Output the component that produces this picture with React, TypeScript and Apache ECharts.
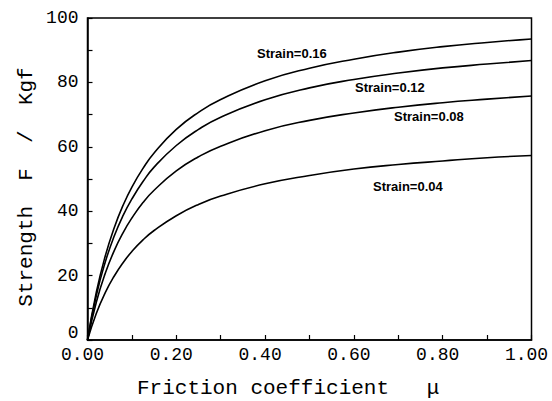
import React, { useEffect, useRef } from "react";
import * as echarts from "echarts";

const mu = [0, 0.02, 0.04, 0.06, 0.08, 0.1, 0.125, 0.15, 0.2, 0.25, 0.3, 0.4, 0.5, 0.6, 0.7, 0.8, 0.9, 1.0];
const strain016 = [0, 14.9, 26.1, 34.8, 41.8, 47.5, 53.3, 58.1, 65.4, 70.7, 74.7, 80.5, 84.4, 87.2, 89.4, 91.1, 92.4, 93.5];
const strain012 = [0, 13.9, 24.2, 32.2, 38.6, 43.8, 49.2, 53.7, 60.4, 65.4, 69.2, 74.6, 78.3, 80.9, 82.9, 84.5, 85.7, 86.8];
const strain008 = [0, 11.8, 20.7, 27.7, 33.3, 37.9, 42.7, 46.5, 52.5, 56.9, 60.2, 65.0, 68.2, 70.5, 72.3, 73.7, 74.8, 75.8];
const strain004 = [0, 8.3, 14.7, 19.8, 24.0, 27.5, 31.1, 34.0, 38.6, 42.1, 44.7, 48.5, 51.1, 53.1, 54.5, 55.6, 56.6, 57.3];
const seriesNames = ["Strain=0.16", "Strain=0.12", "Strain=0.08", "Strain=0.04"];
const seriesValues = [strain016, strain012, strain008, strain004];
const xTitle = "Friction coefficient   \u03bc";
const yTitle = "Strength  F  /  Kgf";

const MONO = "'Liberation Mono', monospace";

export default function App() {
  const ref = useRef<HTMLDivElement>(null);
  useEffect(() => {
    if (!ref.current) return;
    const chart = echarts.init(ref.current, null, { renderer: "svg" });
    const labelPos = [
      [257, 54],
      [355, 88],
      [394, 117],
      [373, 187],
    ];
    chart.setOption({
      animation: false,
      backgroundColor: "#fff",
      grid: {
        left: 87.5,
        right: 20.5,
        top: 18,
        bottom: 61,
        show: true,
        borderColor: "#000",
        borderWidth: 1.5,
      },
      xAxis: {
        type: "value",
        min: 0,
        max: 1,
        interval: 0.2,
        axisLine: { show: true, lineStyle: { color: "#000", width: 1.5 } },
        axisTick: { show: true, inside: true, length: 5, lineStyle: { color: "#000", width: 1.2 } },
        minorTick: { show: true, splitNumber: 2, length: 5, lineStyle: { color: "#000", width: 1.2 } },
        splitLine: { show: false },
        axisLabel: {
          color: "#000",
          fontFamily: MONO,
          fontSize: 18,
          margin: 6,
          padding: [0, 10, 0, 0],
          formatter: (v: number) => v.toFixed(2),
        },
      },
      yAxis: {
        type: "value",
        min: 0,
        max: 100,
        interval: 20,
        axisLine: { show: true, lineStyle: { color: "#000", width: 1.5 } },
        axisTick: { show: true, inside: true, length: 5, lineStyle: { color: "#000", width: 1.2 } },
        minorTick: { show: true, splitNumber: 2, length: 5, lineStyle: { color: "#000", width: 1.2 } },
        splitLine: { show: false },
        axisLabel: {
          color: "#000",
          fontFamily: MONO,
          fontSize: 18,
          margin: 9,
          formatter: (v: number) => (v === 0 ? "{z|0}" : String(v)),
          rich: {
            z: { fontFamily: MONO, fontSize: 18, color: "#000", padding: [0, 0, 14, 0] },
          },
        },
      },
      series: seriesValues.map((vals, i) => ({
        name: seriesNames[i],
        type: "line",
        smooth: true,
        showSymbol: false,
        symbol: "none",
        lineStyle: { color: "#000", width: 1.6 },
        data: mu.map((m, j) => [m, vals[j]]),
      })),
      graphic: [
        ...seriesNames.map((n, i) => ({
          type: "text",
          left: labelPos[i][0],
          top: labelPos[i][1] - 7,
          style: {
            text: n,
            fill: "#000",
            font: "bold 13px 'Liberation Sans', Arial, sans-serif",
          },
        })),
        {
          type: "text",
          x: 137,
          y: 388,
          style: {
            text: xTitle,
            fill: "#000",
            font: `21px ${MONO}`,
            textAlign: "left",
            textVerticalAlign: "middle",
          },
        },
        {
          type: "text",
          x: 26,
          y: 187,
          rotation: Math.PI / 2,
          style: {
            text: yTitle,
            fill: "#000",
            font: `21px ${MONO}`,
            textAlign: "center",
            textVerticalAlign: "middle",
          },
        },
      ],
    });
    return () => chart.dispose();
  }, []);
  return <div ref={ref} style={{ width: 552, height: 401, position: "absolute", left: 0, top: 0 }} />;
}
